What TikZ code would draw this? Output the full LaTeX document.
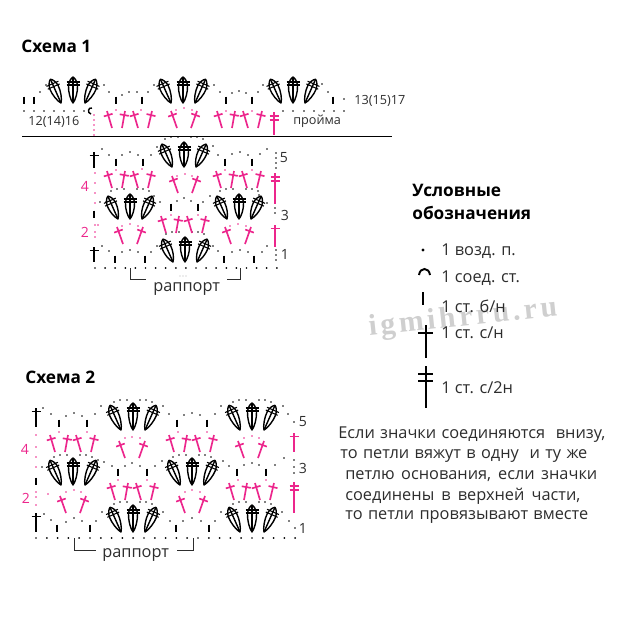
\documentclass[tikz,border=0pt]{standalone}
\usepackage{fontspec}
\usepackage{xcolor}
\setmainfont{Open Sans}
\newfontfamily\wmfont[LetterSpace=12]{Liberation Serif}
\usetikzlibrary{calc}
\definecolor{hotpink}{RGB}{236,38,140}
\definecolor{inkgray}{RGB}{45,45,45}
\newcommand{\fsz}[1]{\fontsize{#1}{#1}\selectfont}
\newlength{\pxunit}
\setlength{\pxunit}{0.02cm}
\tikzset{
  blackdot/.style={fill=black},
  pinkdot/.style={fill=hotpink},
  pinkline/.style={hotpink, line width=0.95pt},
  blackline/.style={black, line width=0.85pt},
  tickline/.style={black, line width=0.8pt},
  leafline/.style={black, line width=0.8pt, line join=round},
  barline/.style={black, line width=0.6pt},
  bracketline/.style={inkgray, line width=0.45pt},
  headtext/.style={text=black, font=\fsz{9.8}\bfseries, anchor=west, inner sep=0pt},
  bodytext/.style={text=inkgray, font=\fsz{9.3}, anchor=west, inner sep=0pt},
  smalltext/.style={text=inkgray, font=\fsz{7.2}, anchor=west, inner sep=0pt},
  pinknum/.style={text=hotpink, font=\fsz{8}, inner sep=0pt},
  graynum/.style={text=inkgray, font=\fsz{8}, inner sep=0pt}
}
\newcommand{\chaindots}[1]{\foreach \x/\y in {#1} \fill[blackdot] (\x,\y) circle (0.56pt);}
\newcommand{\pinkdots}[1]{\foreach \x/\y in {#1} \fill[pinkdot] (\x,\y) circle (0.56pt);}
\newcommand{\scticks}[1]{\foreach \x/\y in {#1} \draw[tickline] (\x,\y-3.5) -- (\x,\y+3.5);}
\newcommand{\scleaf}[4]{
  \begin{scope}[shift={(#1,#2)}, rotate=#3]
    \draw[leafline] (0,0) .. controls (-2.5,-3) and (-4.8,-#4+15) .. (-4.5,-#4+9)
      .. controls (-4.3,-#4+5) and (-2,-#4+1) .. (0,-#4)
      .. controls (2,-#4+1) and (4.3,-#4+5) .. (4.5,-#4+9)
      .. controls (4.8,-#4+15) and (2.5,-3) .. (0,0) -- cycle;
    \draw[leafline] (0,-1) -- (0,-#4);
    \draw[barline] (-6.5,-#4+5) -- (6.5,-#4+5);
    \draw[barline] (-6.5,-#4+8) -- (6.5,-#4+8);
  \end{scope}
}
\newcommand{\scfan}[3]{
  \scleaf{#1-12}{#2}{24}{#3}
  \scleaf{#1}{#2}{0}{#3}
  \scleaf{#1+12}{#2}{-24}{#3}
}
\newcommand{\scarc}[2]{
  \chaindots{#1-19/#2-28, #1-13/#2-30, #1-6/#2-30, #1+7/#2-30, #1+13/#2-30, #1+19/#2-28}
}
\newcommand{\slantst}[5]{
  \coordinate (sb) at (#2,#3);
  \coordinate (st) at (#4,#5);
  \coordinate (sm) at ($(sb)!0.76!(st)$);
  \draw[#1] (sb) -- (st);
  \draw[#1] ($(sm)!2.6pt!90:(st)$) -- ($(sm)!2.6pt!-90:(st)$);
}
\newcommand{\pinkfour}[2]{
  \slantst{pinkline}{#1-18}{#2}{#1-23}{#2-17}
  \slantst{pinkline}{#1-8}{#2}{#1-5}{#2-17}
  \slantst{pinkline}{#1+8}{#2}{#1+3}{#2-17}
  \slantst{pinkline}{#1+18}{#2}{#1+22}{#2-17}
}
\newcommand{\pinktwo}[2]{
  \slantst{pinkline}{#1-7}{#2}{#1-13}{#2-17}
  \slantst{pinkline}{#1+7}{#2}{#1+13}{#2-17}
}
\newcommand{\scdc}[4]{
  \draw[#1] (#2,#3) -- (#2,#4);
  \draw[#1] (#2-4.5,#3+3.5) -- (#2+4.5,#3+3.5);
}
\newcommand{\sctwodc}[4]{
  \draw[#1] (#2,#3) -- (#2,#4);
  \draw[#1] (#2-4.5,#3+4) -- (#2+4.5,#3+4);
  \draw[#1] (#2-4.5,#3+8) -- (#2+4.5,#3+8);
}
\begin{document}
\begin{tikzpicture}[x=0.02cm, y=-0.02cm]
  \useasboundingbox (0,0) rectangle (620,620);
  \node[headtext] (titleone) at (21,46) {Схема 1};
  \node[smalltext] (numleft) at (28,122) {12(14)16};
  \node[smalltext] (numright) at (354,101) {13(15)17};
  \node[smalltext] (armhole) at (293,121) {пройма};
  \draw[black, line width=0.5pt] (22,136) -- (392,136);
  \chaindots{24/111, 34/111, 44/111, 54/111, 64/111, 74/111, 84/111}
  \chaindots{283/111, 293/111, 304/111, 314/111, 324/111, 334/111, 344/111}
  \draw[black, line width=0.8pt] (92,108) .. controls (88,107) and (87,113) .. (91,114);
  \pinkdots{94/115, 94/120, 94/125, 94/130, 94/135}
  \scticks{24/100, 34/100, 116/100, 142/100, 226/100, 252/100, 333/100}
  \chaindots{40/92, 46/85, 104/85, 109/92, 122/95, 129/92, 137/92, 148/92, 154/85}
  \chaindots{214/85, 220/92, 232/93, 239/91, 246/93, 258/92, 263/85, 322/84, 328/92, 344/99}
  \scfan{73}{103}{26}
  \scfan{183}{103}{26}
  \scfan{293}{103}{26}
  \pinkfour{130}{128}
  \pinktwo{184}{128}
  \pinkfour{240}{128}
  \pinkdots{116/110, 141/110, 176/110, 184/108, 192/110, 226/111, 252/111}
  \sctwodc{pinkline}{274}{112}{135}
  \foreach \x in {95,105.1,...,278} \fill[blackdot] (\x,268) circle (0.56pt);
  \scdc{blackline}{94}{247}{262}
  \chaindots{102/246, 109/251, 122/252, 130/250, 138/252, 151/252, 157/246}
  \chaindots{213/246, 218/251, 232/252, 240/250, 248/252, 262/252, 267/246}
  \chaindots{276/250, 276/255, 276/260}
  \scticks{115/259, 145/259, 224/259, 254/259, 94/214}
  \scfan{185}{262}{25}
  \scarc{185}{262}
  \node[graynum] (rowone) at (285,254) {1};
  \scdc{pinkline}{275}{225}{247}
  \pinkdots{95/225, 95/232, 95/237, 98/225, 122/226, 130/224, 138/226, 171/215, 198/215}
  \pinkdots{230/226, 238/224, 246/226}
  \pinktwo{130}{244}
  \pinktwo{238}{244}
  \pinkfour{184}{233}
  \node[pinknum] (rowtwo) at (85,232) {2};
  \scfan{130}{219}{25}
  \scfan{239}{219}{25}
  \scarc{130}{219}
  \scarc{239}{219}
  \pinkdots{95/203}
  \chaindots{100/202, 106/202, 154/196, 160/202, 177/201, 184/198, 191/201, 203/202, 210/196, 259/195, 267/203}
  \chaindots{275/203, 275/208, 275/213}
  \scticks{171/207, 198/207}
  \node[graynum] (rowthree) at (285,215) {3};
  \pinkfour{130}{188}
  \pinkfour{239}{188}
  \pinktwo{185}{193}
  \pinkdots{116/170, 142/169, 225/170, 252/170, 177/176, 185/174, 192/176}
  \pinkdots{95/173, 95/183, 95/193}
  \sctwodc{pinkline}{275}{173}{204}
  \node[pinknum] (rowfour) at (85,186) {4};
  \scdc{blackline}{94}{152}{168}
  \chaindots{102/149, 109/155, 122/155, 130/152, 138/155, 151/155, 157/147}
  \chaindots{213/146, 218/155, 232/154, 240/152, 248/155, 260/154, 267/149}
  \chaindots{276/153, 276/158, 276/163, 276/168}
  \scticks{116/162, 143/162, 225/162, 252/162}
  \scfan{184}{167}{25}
  \scarc{184}{167}
  \node[graynum] (rowfive) at (284,158) {5};
  \draw[bracketline] (130,268) -- (130,279) -- (146,279);
  \draw[bracketline] (240,268) -- (240,279) -- (227,279);
  \foreach \x in {180,183,186} \fill[gray!60] (\x,276) circle (0.3pt);
  \node[bodytext] (repeatone) at (153,289) {раппорт};

  \node[headtext] (titletwo) at (25,377) {Схема 2};
  \foreach \x in {36,46.8,...,296} \fill[blackdot] (\x,538) circle (0.56pt);
  \scdc{blackline}{36}{513}{532}
  \chaindots{44/514, 51/520, 66/522, 74/518, 82/521, 96/521, 102/512}
  \chaindots{163/512, 170/521, 183/521, 192/518, 201/521, 215/521, 221/512}
  \chaindots{282/512, 289/521, 295/528}
  \scticks{57/528, 90/528, 176/528, 209/528, 36/481}
  \scfan{133}{532}{27}
  \scfan{252}{532}{27}
  \scarc{133}{532}
  \scarc{252}{532}
  \node[graynum] (rowonetwo) at (303,528) {1};
  \pinkdots{36/492, 36/497, 36/505, 48/494, 66/492, 74/490, 81/492, 185/492, 192/490, 200/492}
  \pinkdots{118/480, 147/480, 238/480, 266/480}
  \pinktwo{73}{513}
  \pinktwo{192}{513}
  \pinkfour{133}{500}
  \pinkfour{252}{500}
  \sctwodc{pinkline}{294}{482}{513}
  \node[pinknum] (rowtwotwo) at (26,498) {2};
  \scfan{73}{485}{27}
  \scfan{192}{485}{27}
  \scarc{73}{485}
  \scarc{192}{485}
  \pinkdots{36/457, 36/467}
  \chaindots{42/467, 98/460, 104/462, 112/466, 125/466, 132/463, 140/466, 155/466, 162/461}
  \chaindots{223/461, 229/466, 244/465, 252/463, 259/465, 275/465, 284/458}
  \chaindots{294/460, 294/467, 294/473}
  \scticks{118/472, 147/472, 237/472, 266/472}
  \node[graynum] (rowthreetwo) at (303,468) {3};
  \pinkfour{73}{452}
  \pinkfour{192}{452}
  \pinktwo{132}{458}
  \pinktwo{251}{458}
  \pinkdots{59/432, 87/432, 178/432, 207/432, 125/438, 132/437, 140/438, 244/438, 252/436, 259/438}
  \pinkdots{36/435, 36/447}
  \scdc{pinkline}{294}{433}{452}
  \node[pinknum] (rowfourtwo) at (25,449) {4};
  \scdc{blackline}{36}{408}{427}
  \chaindots{43/408, 51/414, 66/416, 74/413, 82/416, 95/414, 101/406}
  \chaindots{163/406, 169/414, 184/415, 192/413, 200/415, 215/414, 221/406}
  \chaindots{283/406, 288/414, 294/422}
  \scticks{59/423, 87/423, 177/423, 207/423}
  \scfan{133}{430}{27}
  \scfan{252}{430}{27}
  \scarc{133}{430}
  \scarc{252}{430}
  \node[graynum] (rowfivetwo) at (303,422) {5};
  \draw[bracketline] (74,538) -- (74,550) -- (96,550);
  \draw[bracketline] (193,538) -- (193,550) -- (177,550);
  \node[bodytext] (repeattwo) at (102,555) {раппорт};

  \node[text=gray!38, font=\fsz{17}\wmfont\bfseries, rotate=6, inner sep=0pt] (watermark) at (463,319) {igmihrru.ru};
  \node[headtext] (legendone) at (412,190) {Условные};
  \node[headtext] (legendtwo) at (412,213) {обозначения};
  \fill[blackdot] (423,250) circle (0.9pt);
  \draw[black, line width=1.1pt] (419,275) .. controls (420,267) and (429,267) .. (430,275);
  \draw[black, line width=1.1pt] (423,292) -- (423,305);
  \draw[black, line width=1pt] (426,325) -- (426,358);
  \draw[black, line width=1pt] (418,333) -- (433,333);
  \draw[black, line width=1pt] (426,366) -- (426,408);
  \draw[black, line width=1pt] (418,374) -- (433,374);
  \draw[black, line width=1pt] (418,381) -- (433,381);
  \node[bodytext] (keychain) at (441,251) {1 возд. п.};
  \node[bodytext] (keyslip) at (441,278) {1 соед. ст.};
  \node[bodytext] (keysc) at (441,306) {1 ст. б/н};
  \node[bodytext] (keydc) at (441,333) {1 ст. с/н};
  \node[bodytext] (keytr) at (441,388) {1 ст. с/2н};

  \node[bodytext] (noteone) at (338,435) {\makebox[267\pxunit][s]{Если значки соединяются\ \ внизу,}};
  \node[bodytext] (notetwo) at (340,456) {\makebox[247\pxunit][s]{то петли вяжут в одну\ \ и ту же}};
  \node[bodytext] (notethree) at (345,476) {\makebox[252\pxunit][s]{петлю основания, если значки}};
  \node[bodytext] (notefour) at (345,496) {\makebox[235\pxunit][s]{соединены в верхней части,}};
  \node[bodytext] (notefive) at (345,517) {\makebox[243\pxunit][s]{то петли провязывают вместе}};
\end{tikzpicture}
\end{document}
